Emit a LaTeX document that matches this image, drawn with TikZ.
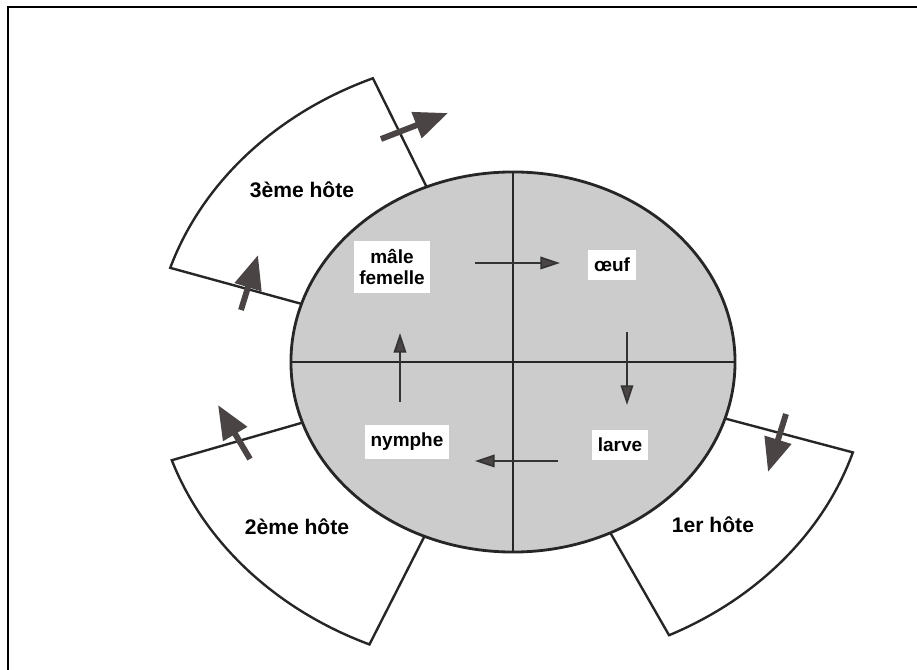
\documentclass[tikz,border=0pt]{standalone}
\usepackage{fontspec}
\setmainfont{Liberation Sans}
\usetikzlibrary{shapes.geometric, arrows.meta, positioning}
\definecolor{stipple}{RGB}{204,204,204}
\definecolor{headgray}{RGB}{74,68,68}
\tikzset{
  stage/.style={rectangle, fill=white, inner xsep=4pt, inner ysep=6pt,
    font=\fontsize{13.5}{16}\selectfont\bfseries, align=center},
  hostlabel/.style={font=\fontsize{15}{17}\selectfont\bfseries},
  hostwall/.style={draw=black!85, line width=1.7pt},
  cyclearrow/.style={draw=black!80, line width=1.2pt,
    -{Triangle[length=14pt, width=9pt, fill=headgray]}},
  jumparrow/.style={draw=headgray, line width=4.2pt,
    -{Triangle[length=24pt, width=19pt]}},
}

\begin{document}
\begin{tikzpicture}[x=0.025cm, y=0.025cm]
  \useasboundingbox (-513,-308) rectangle (404,362);
  \draw[line width=2pt] (-505,-308) -- (-505,355) -- (404,355);

  \draw[hostwall] (162.2:222 and 190) -- (162.2:360 and 308)
    arc[start angle=162.2, end angle=112.9, x radius=360, y radius=308]
    -- (112.9:222 and 190);
  \draw[hostwall] (198.6:222 and 190) -- (198.6:360 and 308)
    arc[start angle=198.6, end angle=246.5, x radius=360, y radius=308]
    -- (246.5:222 and 190);
  \draw[hostwall] (-17.3:222 and 190) -- (-17.3:356 and 304)
    arc[start angle=-17.3, end angle=-64, x radius=356, y radius=304]
    -- (-64:222 and 190);

  \node[ellipse, draw=black!85, line width=2pt, fill=stipple, inner sep=0pt,
    minimum width=11.1cm, minimum height=9.5cm] (life) at (0,0) {};
  \draw[black!85, line width=1.4pt] (life.north) -- (life.south);
  \draw[black!85, line width=1.4pt] (life.west) -- (life.east);

  \node[stage] (adult) at (-121,95) {mâle\\[-1pt]femelle};
  \node[stage] (egg) at (99,97) {œuf};
  \node[stage] (larva) at (107,-83) {larve};
  \node[stage] (nymph) at (-106,-80) {nymphe};

  \node[hostlabel] (host3) at (-211,172) {3ème hôte};
  \node[hostlabel] (host2) at (-216,-165) {2ème hôte};
  \node[hostlabel] (host1) at (200,-163) {1er hôte};

  \coordinate (ae) at (-38,99);   \coordinate (ea) at (47,99);
  \coordinate (el) at (114,30);   \coordinate (le) at (114,-43);
  \coordinate (ln) at (45,-99);   \coordinate (nl) at (-38,-99);
  \coordinate (na) at (-113,-40); \coordinate (an) at (-113,29);
  \draw[cyclearrow] (ae) -- (ea);
  \draw[cyclearrow] (el) -- (le);
  \draw[cyclearrow] (ln) -- (nl);
  \draw[cyclearrow] (na) -- (an);

  \coordinate (out3) at (-132,223); \coordinate (far3) at (-65,249);
  \coordinate (in3) at (-272,52);   \coordinate (near3) at (-255,107);
  \coordinate (out2) at (-263,-97); \coordinate (far2) at (-295,-43);
  \coordinate (in1) at (273,-52);   \coordinate (near1) at (255,-110);
  \draw[jumparrow] (out3) -- (far3);
  \draw[jumparrow] (in3) -- (near3);
  \draw[jumparrow] (out2) -- (far2);
  \draw[jumparrow] (in1) -- (near1);
\end{tikzpicture}
\end{document}
